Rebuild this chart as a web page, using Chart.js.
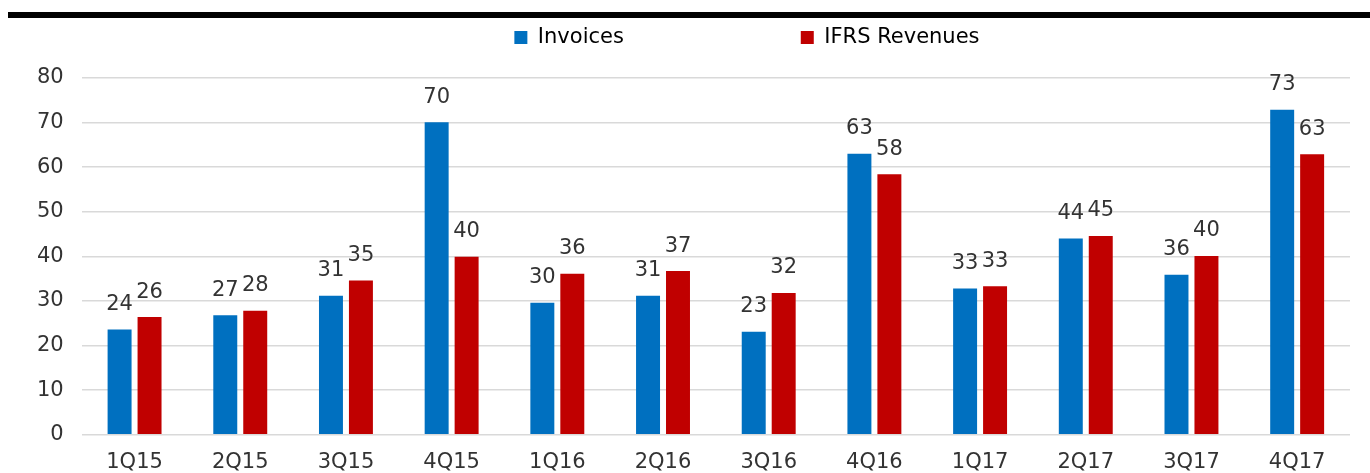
<!DOCTYPE html>
<html>
<head>
<meta charset="utf-8">
<script src="https://cdn.jsdelivr.net/npm/chart.js@4/dist/chart.umd.min.js"></script>
<style>
    html, body { margin: 0; padding: 0; background: #ffffff; overflow: hidden; }
    #wrap { position: relative; width: 1370px; height: 473px; overflow: hidden; }
    #topRule { position: absolute; left: 8px; right: 0; top: 12px; height: 6px; background: #000000; }
</style>
</head>
<body>
<div id="wrap">
    <div id="topRule"></div>
    <canvas id="revChart" width="1370" height="490"></canvas>
</div>
<script>
//Quarter labels and values
const quarters = ["1Q15", "2Q15", "3Q15", "4Q15", "1Q16", "2Q16", "3Q16", "4Q16", "1Q17", "2Q17", "3Q17", "4Q17"];
const invoices = [23.6, 26.8, 31.2, 70.1, 29.6, 31.2, 23.1, 63.0, 32.8, 44.0, 35.9, 72.9];
const ifrsRevenues = [26.4, 27.8, 34.6, 39.9, 36.1, 36.7, 31.8, 58.4, 33.3, 44.6, 40.1, 62.9];
const yTicks = [0, 10, 20, 30, 40, 50, 60, 70, 80];

const FONT = "'DejaVu Sans', sans-serif";
const TEXT = "#333333";

//Legend texts get trailing blanks so the two items sit where the reference has them
const legendPad = [25, 54];

//Pushes the plot down a bit under the legend
const legendGap = {
    id: "legendGap",
    beforeInit(chart){
        const fit = chart.legend.fit;
        chart.legend.fit = function(){
            fit.bind(chart.legend)();
            this.height += 20;
        };
    }
};

//Value labels above every bar
const barLabels = {
    id: "barLabels",
    afterDatasetsDraw(chart){
        const ctx = chart.ctx;
        ctx.save();
        ctx.font = "21px " + FONT;
        ctx.fillStyle = TEXT;
        ctx.textAlign = "center";
        ctx.textBaseline = "middle";
        chart.data.datasets.forEach((ds, i) => {
            chart.getDatasetMeta(i).data.forEach((bar, j) => {
                ctx.fillText(Math.round(ds.data[j]), bar.x, bar.y - 25);
            });
        });
        ctx.restore();
    }
};

new Chart("revChart", {
    type: "bar",
    data: {
        labels: quarters,
        datasets: [
            {
                label: "Invoices",
                data: invoices,
                backgroundColor: "#0070C0",
                categoryPercentage: 0.567,
                barPercentage: 0.8,
            },
            {
                label: "IFRS Revenues",
                data: ifrsRevenues,
                backgroundColor: "#C00000",
                categoryPercentage: 0.567,
                barPercentage: 0.8,
            },
        ],
    },
    options: {
        responsive: false,
        animation: false,
        layout: {
            padding: { top: 17, left: 19, right: 20, bottom: 0 },
        },
        plugins: {
            legend: {
                display: true,
                position: "top",
                align: "end",
                labels: {
                    boxWidth: 13,
                    boxHeight: 13,
                    padding: 10,
                    color: TEXT,
                    font: { family: FONT, size: 21 },
                    generateLabels(chart){
                        return chart.data.datasets.map((ds, i) => ({
                            text: ds.label + " ".repeat(legendPad[i]),
                            fillStyle: ds.backgroundColor,
                            strokeStyle: ds.backgroundColor,
                            lineWidth: 0,
                            hidden: false,
                            datasetIndex: i,
                        }));
                    },
                },
            },
            tooltip: { enabled: false },
        },
        scales: {
            x: {
                grid: { display: false, drawTicks: false },
                border: { display: false },
                ticks: {
                    color: TEXT,
                    padding: 15,
                    font: { family: FONT, size: 21 },
                },
            },
            y: {
                min: 0,
                max: 80,
                afterBuildTicks(axis){
                    axis.ticks = yTicks.map(v => ({ value: v }));
                },
                grid: { color: "#d9d9d9", lineWidth: 1.5, drawTicks: false },
                border: { display: false },
                ticks: {
                    color: TEXT,
                    padding: 18,
                    font: { family: FONT, size: 21 },
                },
            },
        },
    },
    plugins: [legendGap, barLabels],
});
</script>
</body>
</html>
